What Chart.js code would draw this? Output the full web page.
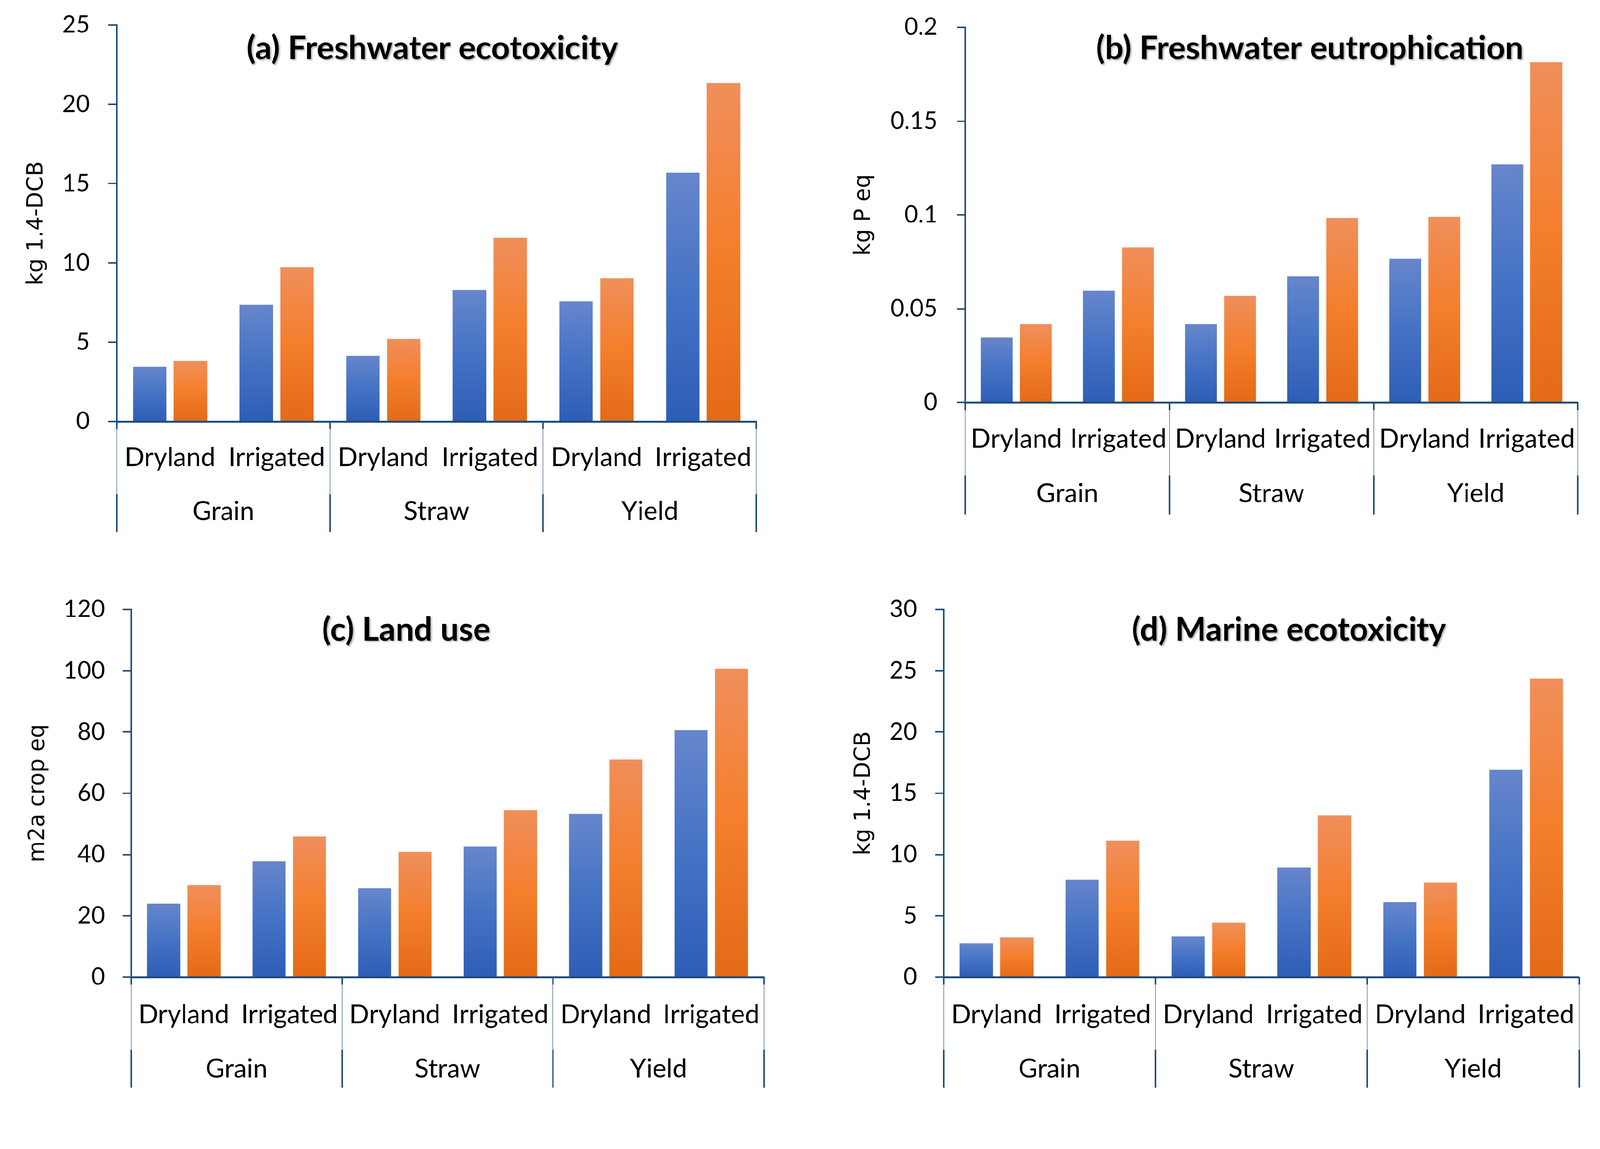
<!DOCTYPE html>
<html>
<head>
<meta charset="utf-8">
<script src="https://cdn.jsdelivr.net/npm/chart.js@4.4.1/dist/chart.umd.min.js"></script>
<style>
  html, body { margin: 0; padding: 0; background: #fff; overflow: hidden; }
  #page { position: absolute; left: 0; top: 0; width: 4222px; height: 2941px; transform-origin: 0 0; }
  .panel { position: absolute; }
</style>
</head>
<body>
<div id="page">
  <div class="panel" style="left:0px;top:0px"><canvas id="chartA" width="2111" height="1470"></canvas></div>
  <div class="panel" style="left:2111px;top:0px"><canvas id="chartB" width="2111" height="1470"></canvas></div>
  <div class="panel" style="left:0px;top:1470px"><canvas id="chartC" width="2111" height="1471"></canvas></div>
  <div class="panel" style="left:2111px;top:1470px"><canvas id="chartD" width="2111" height="1471"></canvas></div>
</div>
<script>
"use strict";

// categories
let xLabels = ["Dryland", "Irrigated", "Dryland", "Irrigated", "Dryland", "Irrigated"];
let groupLabels = ["Grain", "Straw", "Yield"];

// (a) Freshwater ecotoxicity, kg 1.4-DCB
let fwEcoBlue = [3.45, 7.36, 4.14, 8.29, 7.57, 15.68];
let fwEcoOrange = [3.83, 9.73, 5.20, 11.58, 9.03, 21.33];

// (b) Freshwater eutrophication, kg P eq
let fwEutBlue = [0.0346, 0.0596, 0.0417, 0.0672, 0.0767, 0.1269];
let fwEutOrange = [0.0417, 0.0828, 0.0569, 0.0984, 0.0990, 0.1814];

// (c) Land use, m2a crop eq
let landBlue = [24.0, 37.8, 29.0, 42.6, 53.3, 80.7];
let landOrange = [30.0, 45.9, 40.9, 54.5, 71.0, 100.6];

// (d) Marine ecotoxicity, kg 1.4-DCB
let marBlue = [2.77, 7.96, 3.32, 8.95, 6.12, 16.91];
let marOrange = [3.24, 11.14, 4.43, 13.21, 7.70, 24.37];

// y axis ranges
let yMaxA = 25, yStepA = 5;
let yMaxB = 0.2, yStepB = 0.05;
let yMaxC = 120, yStepC = 20;
let yMaxD = 30, yStepD = 5;

// fit the 4222x2941 drawing into whatever viewport we get
let page = document.getElementById("page");
let fit = Math.min(window.innerWidth / 4222, window.innerHeight / 2941);
if (fit > 0 && Math.abs(fit - 1) > 0.001) page.style.transform = "scale(" + fit + ")";

let AXIS = "#1F4E79";
let TXT = "#000000";
let FONT = "Lato, Carlito, Calibri, sans-serif";

let blueStops = ["#6686cc", "#4472c4", "#2e5db6"];
let orangeStops = ["#f08f5b", "#f47e2c", "#e36a17"];

function barFill(stops)
{
    return function (ctx)
    {
        let chart = ctx.chart;
        let y = chart.scales.y;
        if (ctx.type !== "data" || !y || ctx.raw === undefined) return stops[1];
        let top = y.getPixelForValue(ctx.raw);
        let base = y.getPixelForValue(0);
        if (!isFinite(top) || !isFinite(base) || top === base) return stops[1];
        let g = chart.ctx.createLinearGradient(0, top, 0, base);
        g.addColorStop(0, stops[0]);
        g.addColorStop(0.5, stops[1]);
        g.addColorStop(1, stops[2]);
        return g;
    };
}

// group labels, separators and panel title
let panelDecor = {
    id: "panelDecor",
    afterDraw(chart, args, opts)
    {
        let c = chart.ctx;
        let x = chart.scales.x;
        let area = chart.chartArea;
        let n = xLabels.length;
        let per = n / groupLabels.length;
        let catW = (x.right - x.left) / n;
        let y0 = area.bottom;
        c.save();
        c.strokeStyle = AXIS;
        for (let g = 0; g <= groupLabels.length; g++)
        {
            let px = (g === 0) ? x.left : (g === groupLabels.length ? x.right : x.getPixelForValue(g * per) - catW / 2);
            px = Math.round(px);
            c.lineWidth = 4;
            c.beginPath(); c.moveTo(px, y0); c.lineTo(px, y0 + 20); c.stroke();
            c.lineWidth = 2;
            c.globalAlpha = 0.6;
            c.beginPath(); c.moveTo(px, y0 + 20); c.lineTo(px, y0 + 192); c.stroke();
            c.globalAlpha = 1;
            c.lineWidth = 4;
            c.beginPath(); c.moveTo(px, y0 + 192); c.lineTo(px, y0 + opts.sepLen); c.stroke();
        }
        c.fillStyle = TXT;
        c.font = "69px " + FONT;
        c.textAlign = "center";
        c.textBaseline = "middle";
        for (let g = 0; g < groupLabels.length; g++)
        {
            let mid = (x.getPixelForValue(g * per) + x.getPixelForValue(g * per + per - 1)) / 2;
            c.fillText(groupLabels[g], mid, y0 + opts.groupY);
        }
        c.shadowColor = "rgba(0,0,0,0.35)";
        c.shadowBlur = 4;
        c.shadowOffsetX = 3;
        c.shadowOffsetY = 3;
        c.font = "bold 86px " + FONT;
        c.fillText(opts.title, opts.titleX, opts.titleY);
        c.restore();
    }
};

function tickText(v)
{
    return String(parseFloat(Number(v).toFixed(6)));
}

function makeChart(id, blue, orange, yMax, yStep, yTitle, lay)
{
    let canvas = document.getElementById(id);
    return new Chart(canvas.getContext("2d"), {
        type: "bar",
        data: {
            labels: xLabels,
            datasets: [
                { label: "Series 1", data: blue, backgroundColor: barFill(blueStops), borderWidth: 0 },
                { label: "Series 2", data: orange, backgroundColor: barFill(orangeStops), borderWidth: 0 }
            ]
        },
        options: {
            responsive: false,
            animation: false,
            devicePixelRatio: 1,
            datasets: { bar: { categoryPercentage: 0.765, barPercentage: 0.82 } },
            layout: { padding: { left: 0, top: lay.top, right: lay.right, bottom: lay.bottom } },
            plugins: {
                legend: { display: false },
                tooltip: { enabled: false },
                panelDecor: { title: lay.title, titleX: lay.titleX, titleY: lay.titleY, sepLen: lay.xH, groupY: lay.groupY }
            },
            scales: {
                x: {
                    grid: { display: false, drawTicks: false },
                    border: { display: true, color: AXIS, width: 5 },
                    ticks: {
                        color: TXT,
                        autoSkip: false,
                        maxRotation: 0,
                        minRotation: 0,
                        padding: lay.labelY - 34,
                        font: { family: FONT, size: 69, lineHeight: 1 }
                    },
                    afterFit: function (s) { s.height = lay.xH; }
                },
                y: {
                    min: 0,
                    max: yMax,
                    ticks: {
                        stepSize: yStep,
                        color: TXT,
                        padding: lay.tickPad,
                        font: { family: FONT, size: 63 },
                        callback: tickText
                    },
                    grid: { display: true, drawOnChartArea: false, drawTicks: true, tickLength: 22, color: AXIS, lineWidth: 4 },
                    border: { display: true, color: AXIS, width: 4 },
                    title: {
                        display: true,
                        text: yTitle,
                        color: TXT,
                        font: { family: "DejaVu Sans", size: 58, lineHeight: 1.2 },
                        padding: { top: lay.yTitleX - 35, bottom: 0 }
                    },
                    afterFit: function (s)
                    {
                        s.width = lay.yW;
                        s.paddingTop = 20;
                        s.paddingBottom = 20;
                    }
                }
            }
        },
        plugins: [panelDecor]
    });
}

makeChart("chartA", fwEcoBlue, fwEcoOrange, yMaxA, yStepA, "kg 1.4-DCB", {
    top: 66, right: 115, bottom: 66, xH: 292, yW: 308, tickPad: 49, yTitleX: 97,
    labelY: 95, groupY: 238, title: "(a) Freshwater ecotoxicity", titleX: 1141, titleY: 128
});

makeChart("chartB", fwEutBlue, fwEutOrange, yMaxB, yStepB, "kg P eq", {
    top: 72, right: 45, bottom: 113, xH: 295, yW: 436, tickPad: 51, yTitleX: 169,
    labelY: 96, groupY: 241, title: "(b) Freshwater eutrophication", titleX: 1345, titleY: 128
});

makeChart("chartC", landBlue, landOrange, yMaxC, yStepC, "m2a crop eq", {
    top: 138, right: 95, bottom: 71, xH: 292, yW: 346, tickPad: 47, yTitleX: 101,
    labelY: 99, groupY: 243, title: "(c) Land use", titleX: 1072, titleY: 192
});

makeChart("chartD", marBlue, marOrange, yMaxD, yStepD, "kg 1.4-DCB", {
    top: 138, right: 30, bottom: 71, xH: 292, yW: 379, tickPad: 48, yTitleX: 169,
    labelY: 99, groupY: 243, title: "(d) Marine ecotoxicity", titleX: 1290, titleY: 192
});
</script>
</body>
</html>
